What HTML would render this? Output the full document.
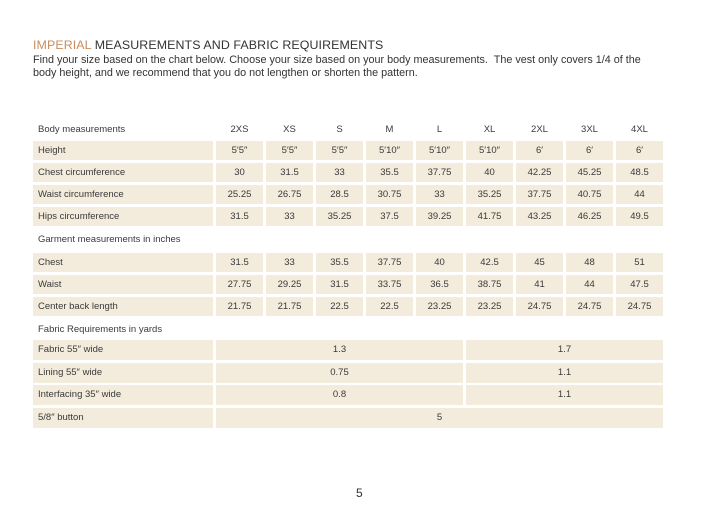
<!DOCTYPE html>
<html><head><meta charset="utf-8"><style>
body{margin:0;width:720px;height:507px;background:#fff;font-family:"Liberation Sans",sans-serif;color:#3a3a3a;position:relative;overflow:hidden}
.t{position:absolute;left:33px;top:38px;font-size:12.4px;color:#333;letter-spacing:0.1px}
.t span{color:#c98d5f}
.p{position:absolute;left:33px;top:54px;font-size:10.8px;line-height:13px;color:#333;width:615px}
.r{position:absolute;left:33px;display:flex;gap:3px;height:19px;font-size:9.5px}
.r div{background:#f3ebdc;width:47px;text-align:center;line-height:19px}
.r div.l{width:175px;text-align:left;padding-left:5px}
.h div{background:none}
.f{height:20px}.f div{line-height:20px}
.s5{width:247px!important}.s4{width:197px!important}.s9{width:447px!important}
.pg{position:absolute;left:356px;top:486px;font-size:12px;color:#333}
</style></head><body>
<div class="t"><span>IMPERIAL</span> MEASUREMENTS AND FABRIC REQUIREMENTS</div>
<div class="p">Find your size based on the chart below. Choose your size based on your body measurements.&nbsp; The vest only covers 1/4 of the body height, and we recommend that you do not lengthen or shorten the pattern.</div>
<div class="r h" style="top:120px"><div class="l">Body measurements</div><div>2XS</div><div>XS</div><div>S</div><div>M</div><div>L</div><div>XL</div><div>2XL</div><div>3XL</div><div>4XL</div></div>
<div class="r" style="top:141px"><div class="l">Height</div><div>5′5″</div><div>5′5″</div><div>5′5″</div><div>5′10″</div><div>5′10″</div><div>5′10″</div><div>6′</div><div>6′</div><div>6′</div></div>
<div class="r" style="top:163px"><div class="l">Chest circumference</div><div>30</div><div>31.5</div><div>33</div><div>35.5</div><div>37.75</div><div>40</div><div>42.25</div><div>45.25</div><div>48.5</div></div>
<div class="r" style="top:185px"><div class="l">Waist circumference</div><div>25.25</div><div>26.75</div><div>28.5</div><div>30.75</div><div>33</div><div>35.25</div><div>37.75</div><div>40.75</div><div>44</div></div>
<div class="r" style="top:207px"><div class="l">Hips circumference</div><div>31.5</div><div>33</div><div>35.25</div><div>37.5</div><div>39.25</div><div>41.75</div><div>43.25</div><div>46.25</div><div>49.5</div></div>
<div class="r h" style="top:230px"><div class="l">Garment measurements in inches</div></div>
<div class="r" style="top:253px"><div class="l">Chest</div><div>31.5</div><div>33</div><div>35.5</div><div>37.75</div><div>40</div><div>42.5</div><div>45</div><div>48</div><div>51</div></div>
<div class="r" style="top:275px"><div class="l">Waist</div><div>27.75</div><div>29.25</div><div>31.5</div><div>33.75</div><div>36.5</div><div>38.75</div><div>41</div><div>44</div><div>47.5</div></div>
<div class="r" style="top:297px"><div class="l">Center back length</div><div>21.75</div><div>21.75</div><div>22.5</div><div>22.5</div><div>23.25</div><div>23.25</div><div>24.75</div><div>24.75</div><div>24.75</div></div>
<div class="r h" style="top:320px"><div class="l">Fabric Requirements in yards</div></div>
<div class="r f" style="top:340px"><div class="l">Fabric 55″ wide</div><div class="s5">1.3</div><div class="s4">1.7</div></div>
<div class="r f" style="top:363px"><div class="l">Lining 55″ wide</div><div class="s5">0.75</div><div class="s4">1.1</div></div>
<div class="r f" style="top:385px"><div class="l">Interfacing 35″ wide</div><div class="s5">0.8</div><div class="s4">1.1</div></div>
<div class="r f" style="top:408px"><div class="l">5/8″ button</div><div class="s9">5</div></div>
<div class="pg">5</div>
</body></html>
